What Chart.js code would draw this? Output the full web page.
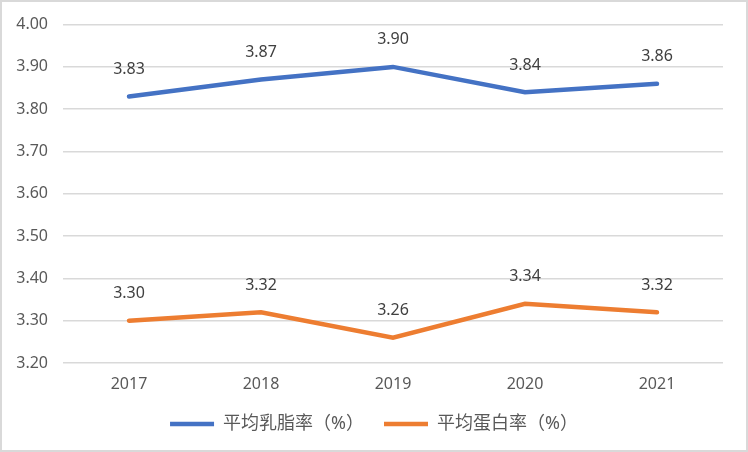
<!DOCTYPE html>
<html>
<head>
<meta charset="utf-8">
<script src="https://cdn.jsdelivr.net/npm/chart.js@4/dist/chart.umd.min.js"></script>
<style>
  html, body { margin: 0; padding: 0; background: #fff; }
  #wrap { position: relative; width: 748px; height: 452px; }
  #wrap::after {
    content: ''; position: absolute; left: 0; top: 0; right: 0; bottom: 0;
    border: 2px solid #d9d9d9; pointer-events: none;
  }
  canvas { display: block; }
</style>
</head>
<body>
<div id="wrap"><canvas id="milkChart" width="748" height="452"></canvas></div>
<script>
// Data
const years = ['2017', '2018', '2019', '2020', '2021'];
const fatRate = [3.83, 3.87, 3.90, 3.84, 3.86];
const proteinRate = [3.30, 3.32, 3.26, 3.34, 3.32];
const seriesNames = ['平均乳脂率（%）', '平均蛋白率（%）'];

const fontFamily = '"Noto Sans", "Noto Sans CJK SC", sans-serif';

// Value labels above each point
const pointLabels = {
  id: 'pointLabels',
  afterDatasetsDraw(chart) {
    const ctx = chart.ctx;
    ctx.save();
    ctx.font = '16px ' + fontFamily;
    ctx.fillStyle = '#404040';
    ctx.textAlign = 'center';
    ctx.textBaseline = 'middle';
    chart.data.datasets.forEach((ds, i) => {
      chart.getDatasetMeta(i).data.forEach((pt, j) => {
        ctx.fillText(ds.data[j].toFixed(2), pt.x, pt.y - 27);
      });
    });
    ctx.restore();
  }
};

const ctx = document.getElementById('milkChart').getContext('2d');
new Chart(ctx, {
  type: 'line',
  data: {
    labels: years,
    datasets: [
      {
        label: seriesNames[0],
        data: fatRate,
        borderColor: '#4472c4',
        backgroundColor: '#4472c4',
        borderWidth: 4.5,
        borderCapStyle: 'round',
        pointRadius: 0,
        tension: 0
      },
      {
        label: seriesNames[1],
        data: proteinRate,
        borderColor: '#ed7d31',
        backgroundColor: '#ed7d31',
        borderWidth: 4.5,
        borderCapStyle: 'round',
        pointRadius: 0,
        tension: 0
      }
    ]
  },
  options: {
    responsive: false,
    animation: false,
    layout: { padding: { top: 23, right: 0, bottom: 9, left: 0 } },
    plugins: {
      tooltip: { enabled: false },
      legend: {
        position: 'bottom',
        labels: {
          usePointStyle: true,
          pointStyle: 'line',
          pointStyleWidth: 44,
          boxHeight: 4,
          padding: 20,
          color: '#595959',
          font: { size: 18, family: fontFamily }
        }
      }
    },
    scales: {
      x: {
        offset: true,
        grid: { display: false, drawTicks: false },
        border: { display: false },
        ticks: {
          padding: 12,
          color: '#595959',
          font: { size: 16, family: fontFamily }
        },
        afterFit: scale => { scale.height = 32; }
      },
      y: {
        min: 3.2,
        max: 4.0,
        ticks: {
          stepSize: 0.1,
          padding: 15,
          color: '#595959',
          font: { size: 16, family: fontFamily },
          callback: v => v.toFixed(2)
        },
        grid: { color: '#d9d9d9', lineWidth: 1.5, drawTicks: false },
        border: { display: false },
        afterFit: scale => { scale.width = 63; }
      },
      // empty right margin so the legend stays centred on the page
      yRight: {
        position: 'right',
        ticks: { display: false },
        grid: { display: false, drawTicks: false },
        border: { display: false },
        afterFit: scale => { scale.width = 25; }
      }
    }
  },
  plugins: [pointLabels]
});
</script>
</body>
</html>
